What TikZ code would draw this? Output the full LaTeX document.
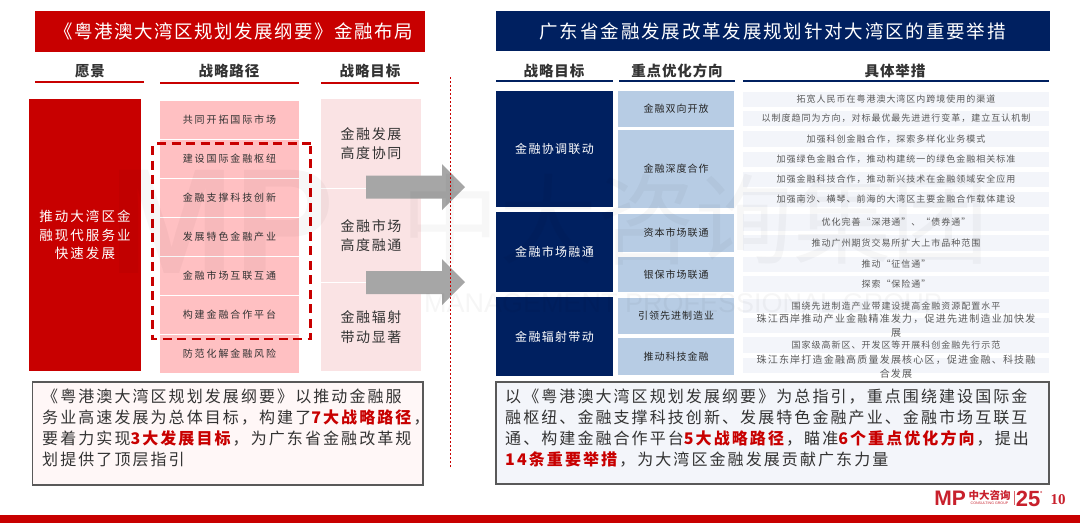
\documentclass[tikz,border=0pt]{standalone}
\usepackage{fontspec}
\setmainfont{Noto Sans CJK SC}
\newfontfamily\wmfont{Liberation Sans}
\newfontfamily\pgfont{Liberation Serif}
\newcommand{\fs}[2]{\fontsize{#1}{#2}\selectfont}
\definecolor{mpred}{HTML}{C80000}
\definecolor{mpnavy}{HTML}{002060}
\definecolor{logored}{HTML}{C8202C}
\definecolor{pathpink}{HTML}{FFC0C2}
\definecolor{goalpink}{HTML}{FAE3E4}
\definecolor{dirblue}{HTML}{B7CCE4}
\definecolor{actpale}{HTML}{F3F5FA}
\definecolor{txtdark}{HTML}{333333}
\definecolor{txtgrey}{HTML}{5A5A5A}
\tikzset{
 x=1pt,y=-1pt,
 box/.style={inner sep=0pt,outer sep=0pt,anchor=north west,align=center,draw=none},
 titlebar/.style={box,fill=mpred,text=white,font=\fs{18.5}{22}\addfontfeature{LetterSpace=8}},
 headtxt/.style={inner sep=0pt,text=txtdark,font=\fs{14.5}{18}\bfseries\addfontfeature{LetterSpace=6}},
 headline/.style={line width=2pt},
 visionbox/.style={box,fill=mpred,text=white,font=\fs{13.5}{18.5}\addfontfeature{LetterSpace=15}},
 pathbox/.style={box,fill=pathpink,text=txtdark,font=\fs{10}{12}\addfontfeature{LetterSpace=19}},
 goalbox/.style={box,fill=goalpink,text=txtdark,font=\fs{14}{19.3}\addfontfeature{LetterSpace=11}},
 objbox/.style={box,fill=mpnavy,text=white,font=\fs{12}{15}\addfontfeature{LetterSpace=11}},
 dirbox/.style={box,fill=dirblue,text=black!85,font=\fs{10}{12}\addfontfeature{LetterSpace=10}},
 actbox/.style={box,fill=actpale,text=txtgrey,font=\fs{9}{11}\addfontfeature{LetterSpace=11}},
 actwide/.style={inner sep=0pt,text=txtgrey,align=center,font=\fs{10}{14}\addfontfeature{LetterSpace=12}},
 notebox/.style={box,draw=black!65,line width=1.2pt,anchor=north west},
 notetxt/.style={inner sep=0pt,anchor=north west,align=left,text=txtdark,font=\fs{16}{20.9}\addfontfeature{LetterSpace=13}},
 flowarrow/.style={fill=black!35,draw=none},
 dashframe/.style={mpred,line width=2.2pt,dash pattern=on 9pt off 5.5pt},
 logotxt/.style={inner sep=0pt,text=logored}
}
\newcommand{\hl}[1]{\textcolor{mpred}{#1}}
\begin{document}
\begin{tikzpicture}
\useasboundingbox (0,0) rectangle (1080,523);
\fill[white] (0,0) rectangle (1080,523);

% left panel
\node[titlebar,minimum width=390pt,minimum height=41pt] (ltitle) at (35,11) {\hspace*{7pt}《粤港澳大湾区规划发展纲要》金融布局};
\node[headtxt] (h1) at (90,71) {愿景};
\node[headtxt] (h2) at (229,71) {战略路径};
\node[headtxt] (h3) at (370,71) {战略目标};
\draw[mpred,headline] (35,82) -- (144,82);
\draw[mpred,headline] (160,82.5) -- (299,82.5);
\draw[mpred,headline] (321,83) -- (419,83);

\node[visionbox,minimum width=112pt,minimum height=272pt] (vision) at (29,99) {推动大湾区金\\融现代服务业\\快速发展};

\foreach \n/\y/\h/\t in {p1/101/37.5/共同开拓国际市场,p2/140/37.5/建设国际金融枢纽,p3/179/37.5/金融支撑科技创新,p4/218/37.5/发展特色金融产业,p5/257/37.5/金融市场互联互通,p6/296/38/构建金融合作平台,p7/335/38/防范化解金融风险}
  \node[pathbox,minimum width=139pt,minimum height=\h pt] (\n) at (160,\y) {\raisebox{-1pt}{\t}};

\node[goalbox,minimum width=100pt,minimum height=89pt] (g1) at (321,99) {金融发展\\高度协同};
\node[goalbox,minimum width=100pt,minimum height=93pt] (g2) at (321,189) {金融市场\\高度融通};
\node[goalbox,minimum width=100pt,minimum height=88pt] (g3) at (321,283) {金融辐射\\带动显著};

\draw[dashframe] (157,143.5) -- (311,143.5);
\draw[dashframe] (152.5,146) -- (152.5,339) -- (310.5,339) -- (310.5,146);

\fill[flowarrow] (366,175.5) -- (442,175.5) -- (442,164) -- (465,187) -- (442,210) -- (442,198.5) -- (366,198.5) -- cycle;
\fill[flowarrow] (366,271) -- (442,271) -- (442,259) -- (465,282) -- (442,305) -- (442,294) -- (366,294) -- cycle;

\draw[mpred,line width=0.9pt,dash pattern=on 2pt off 2pt] (450,77) -- (450,467);

\node[notebox,fill=red!3,minimum width=390.5pt,minimum height=103pt] (lnote) at (32.5,382) {};
\node[notetxt] (lnotet) at (42,389) {《粤港澳大湾区规划发展纲要》以推动金融服\\务业高速发展为总体目标，构建了\hl{\textbf{7大战略路径}}，\\要着力实现\hl{\textbf{3大发展目标}}，为广东省金融改革规\\划提供了顶层指引};

% right panel
\node[titlebar,fill=mpnavy,minimum width=553.5pt,minimum height=40pt,font=\fs{18.5}{22}\addfontfeature{LetterSpace=10}] (rtitle) at (496,11) {广东省金融发展改革发展规划针对大湾区的重要举措};
\node[headtxt] (r1) at (554,71) {战略目标};
\node[headtxt] (r2) at (677,71) {重点优化方向};
\node[headtxt] (r3) at (895,71) {具体举措};
\draw[mpnavy,headline] (496,81) -- (613,81);
\draw[mpnavy,headline] (619,81) -- (735,81);
\draw[mpnavy,headline] (743,81) -- (1049,81);

\node[objbox,minimum width=117pt,minimum height=116pt] (o1) at (496,91) {\raisebox{-2pt}{金融协调联动}};
\node[objbox,minimum width=117pt,minimum height=80pt] (o2) at (496,212) {\raisebox{-1pt}{金融市场融通}};
\node[objbox,minimum width=117pt,minimum height=79pt] (o3) at (496,297) {金融辐射带动};

\foreach \n/\y/\h/\t in {d1/91/36/金融双向开放,d2/130/78/金融深度合作,d3/214/38/资本市场联通,d4/257/35/银保市场联通,d5/298/36/引领先进制造业,d6/338/37/推动科技金融}
  \node[dirbox,minimum width=116pt,minimum height=\h pt] (\n) at (618,\y) {\raisebox{-1pt}{\t}};

\foreach \n/\y/\h/\t in {a1/92/15/拓宽人民币在粤港澳大湾区内跨境使用的渠道,a2/111/15/以制度趋同为方向，对标最优最先进进行变革，建立互认机制,a3/131/16/加强科创金融合作，探索多样化业务模式,a4/152/15/加强绿色金融合作，推动构建统一的绿色金融相关标准,a5/172/15/加强金融科技合作，推动新兴技术在金融领域安全应用,a6/192/15/加强南沙、横琴、前海的大湾区主要金融合作载体建设,a7/214/17/优化完善“深港通”、“债券通”,a8/235/16/推动广州期货交易所扩大上市品种范围,a9/257/15/推动“征信通”,a10/276/16/探索“保险通”,a11/299/14/围绕先进制造产业带建设提高金融资源配置水平,a12/318/15/{},a13/337/16/国家级高新区、开发区等开展科创金融先行示范,a14/358/15/{}}
  \node[actbox,minimum width=306pt,minimum height=\h pt] (\n) at (743,\y) {\raisebox{-0.5pt}{\t}};
\node[actwide] (a12t) at (896,326) {珠江西岸推动产业金融精准发力，促进先进制造业加快发\\展};
\node[actwide] (a14t) at (896,366.5) {珠江东岸打造金融高质量发展核心区，促进金融、科技融\\合发展};

\node[notebox,fill=actpale,minimum width=553pt,minimum height=102pt] (rnote) at (496,382) {};
\node[notetxt] (rnotet) at (505,389) {以《粤港澳大湾区规划发展纲要》为总指引，重点围绕建设国际金\\融枢纽、金融支撑科技创新、发展特色金融产业、金融市场互联互\\通、构建金融合作平台\hl{\textbf{5大战略路径}}，瞄准\hl{\textbf{6个重点优化方向}}，提出\\\hl{\textbf{14条重要举措}}，为大湾区金融发展贡献广东力量};

% watermark
\node[inner sep=0pt,text=black,opacity=0.03,font=\wmfont\fs{150}{150}\bfseries] (wm0) at (222,222) {MP};
\node[inner sep=0pt,text=black,opacity=0.03,font=\fs{98}{100}] (wm) at (695,220) {中大咨询集团};
\node[inner sep=0pt,text=black,opacity=0.035,font=\wmfont\fs{27}{30}] (wm2) at (683,303) {MANAGEMENT PROFESSIONAL GROUP};

% footer
\fill[mpred] (0,515) rectangle (1080,523);
\node[logotxt,font=\wmfont\fs{21}{22}\bfseries] (mp) at (950,498) {MP};
\node[logotxt,font=\fs{10.5}{11}\bfseries] (cn) at (989.5,495.5) {中大咨询};
\node[logotxt,font=\wmfont\fs{3.6}{4}] (cg) at (989.5,503.5) {CONSULTING GROUP};
\draw[logored!70,line width=0.6pt] (1014.5,491) -- (1014.5,505);
\node[logotxt,font=\wmfont\fs{22}{22}\bfseries] (yr) at (1028,499) {25};
\fill[logored!70] (1041,492) circle (1pt);
\node[logotxt,font=\pgfont\fs{15}{16}\bfseries] (pg) at (1058,500) {10};
\end{tikzpicture}
\end{document}
